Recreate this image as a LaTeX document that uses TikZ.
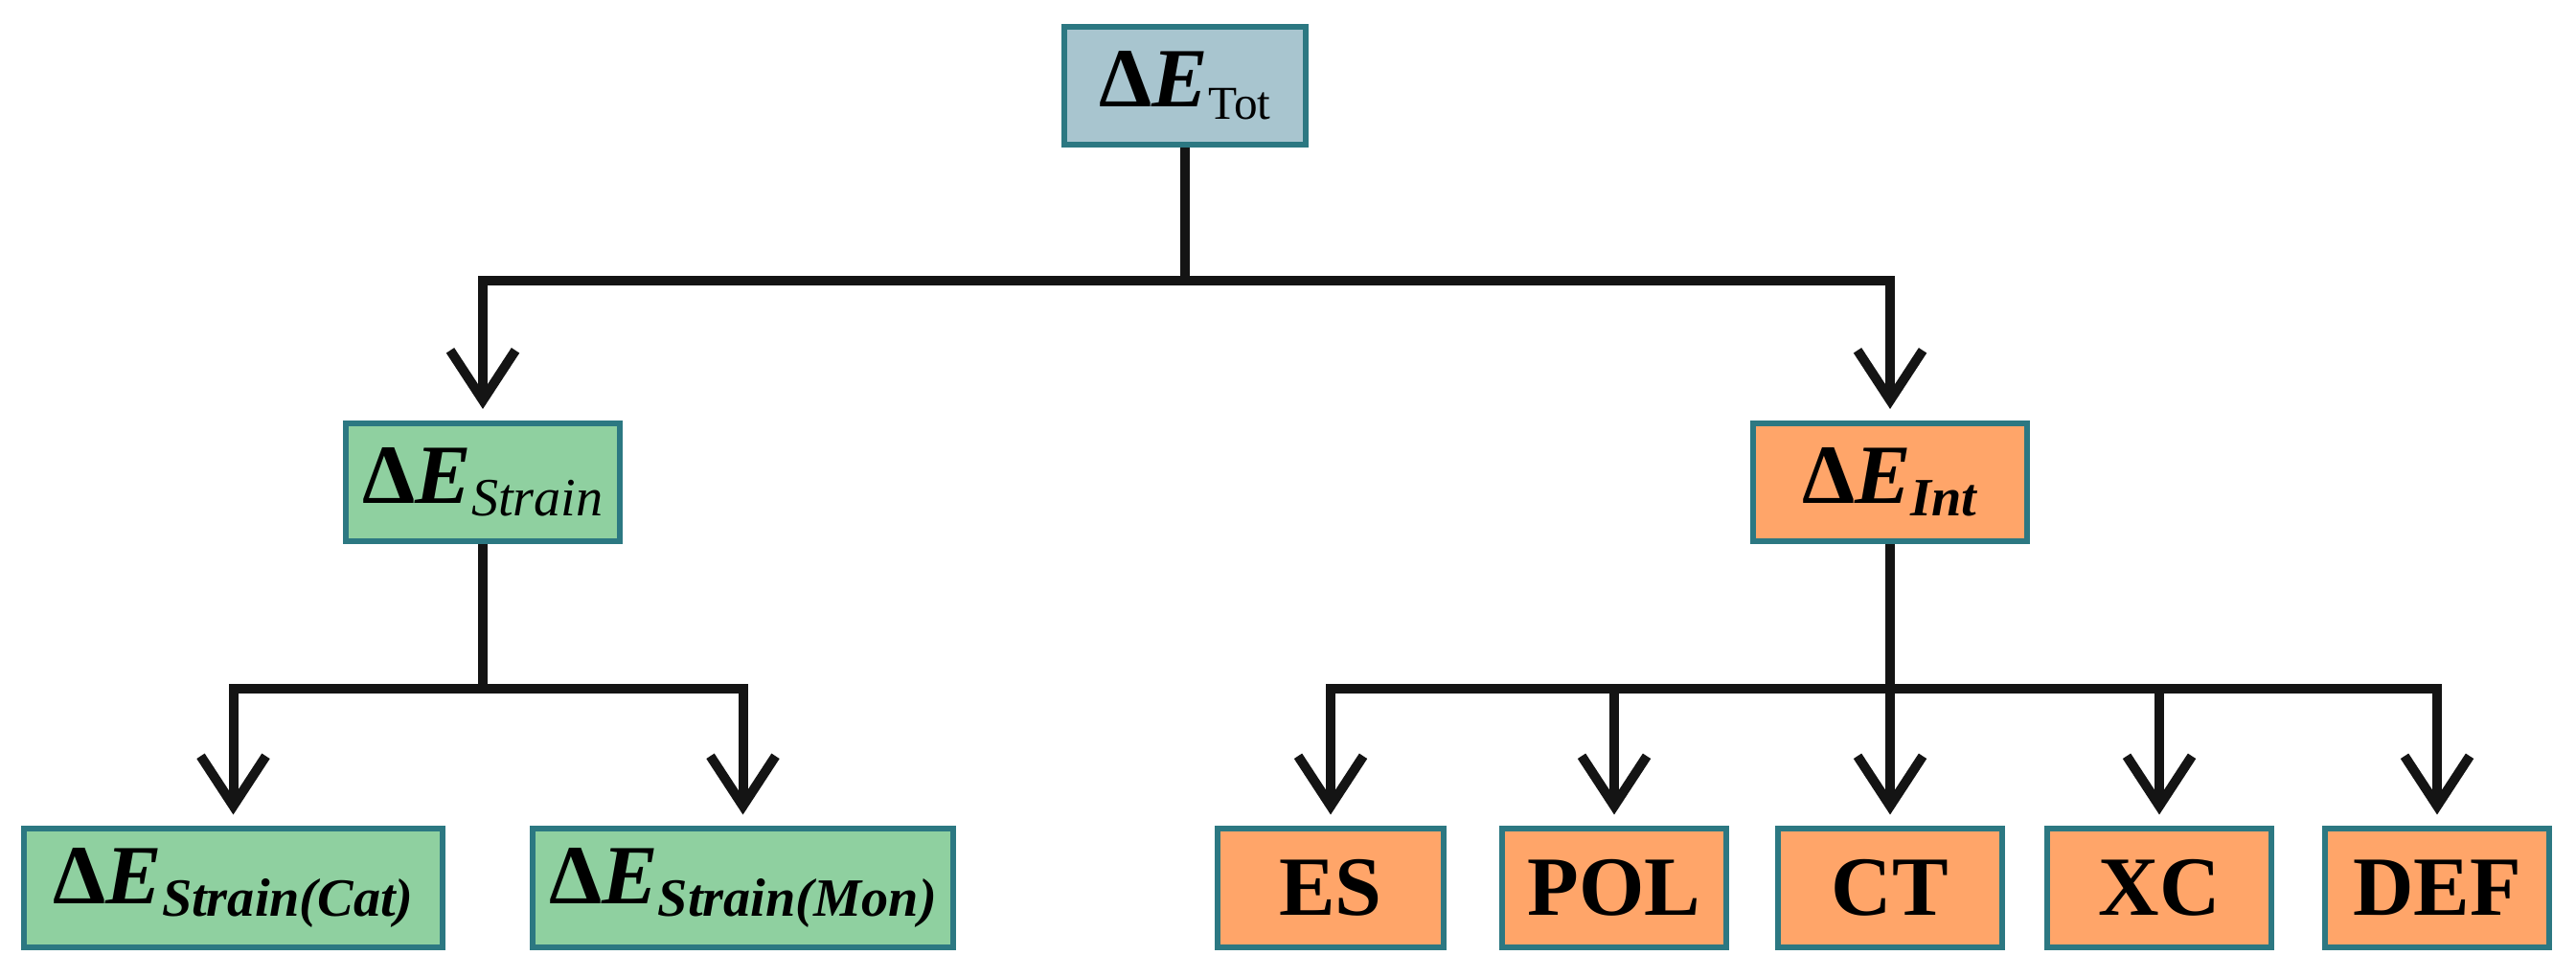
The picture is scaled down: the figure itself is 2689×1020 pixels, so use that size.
\documentclass[tikz,border=0pt]{standalone}
\usepackage{fontspec}
\setmainfont{Liberation Serif}
\usetikzlibrary{arrows.meta}
\definecolor{bord}{RGB}{44,120,130}
\definecolor{topc}{RGB}{168,197,207}
\definecolor{grn}{RGB}{143,208,160}
\definecolor{org}{RGB}{255,165,105}
\definecolor{lnc}{RGB}{20,20,20}
\newcommand{\dEsub}[2]{\textbf{Δ\textit{E}}\raisebox{-0.13cm}{\fontsize{#1}{#1}\selectfont #2}}
\tikzset{
  box/.style={draw=bord, line width=0.06cm, minimum height=1.23cm, inner sep=0pt,
              font=\fontsize{25}{30}\selectfont},
  ln/.style={draw=lnc, line width=0.1cm},
  arr/.style={ln, -{Straight Barb[length=0.52cm,width=0.68cm]}, shorten >=0.12cm},
}
\begin{document}
\begin{tikzpicture}[x=0.01cm,y=-0.01cm]
\useasboundingbox (0,0) rectangle (2689,1020);
% nodes
\node[box, fill=topc, minimum width=2.52cm] (tot) at (1237,89.5) {\dEsub{14}{Tot}};
\node[box, fill=grn, minimum width=2.86cm] (strain) at (504,503.5) {\dEsub{16}{\textit{Strain}}};
\node[box, fill=org, minimum width=2.85cm] (int) at (1973,503.5) {\dEsub{16}{\textbf{\textit{Int}}}};
\node[box, fill=grn, minimum width=4.37cm] (cat) at (243.5,927) {\dEsub{16}{\textbf{\textit{Strain(Cat)}}}};
\node[box, fill=grn, minimum width=4.39cm] (mon) at (775.5,927) {\dEsub{16}{\textbf{\textit{Strain(Mon)}}}};
\node[box, fill=org, minimum width=2.36cm] (es)  at (1389,927) {\textbf{ES}};
\node[box, fill=org, minimum width=2.34cm] (pol) at (1685,927) {\textbf{POL}};
\node[box, fill=org, minimum width=2.33cm] (ct)  at (1973,927) {\textbf{CT}};
\node[box, fill=org, minimum width=2.34cm] (xc)  at (2254,927) {\textbf{XC}};
\node[box, fill=org, minimum width=2.34cm] (def) at (2544,927) {\textbf{DEF}};
% junctions
\coordinate (j0) at (1237,293);
\coordinate (j1) at (504,719);
\coordinate (j2) at (1973,719);
% connectors
\draw[ln] (tot.south) -- (j0);
\draw[arr] (j0) -| (strain.north);
\draw[arr] (j0) -| (int.north);
\draw[ln] (strain.south) -- (j1);
\draw[arr] (j1) -| (cat.north);
\draw[arr] (j1) -| (mon.north);
\draw[ln] (int.south) -- (j2);
\draw[arr] (j2) -| (es.north);
\draw[arr] (j2) -| (pol.north);
\draw[arr] (j2) -- (ct.north);
\draw[arr] (j2) -| (xc.north);
\draw[arr] (j2) -| (def.north);
\end{tikzpicture}
\end{document}
